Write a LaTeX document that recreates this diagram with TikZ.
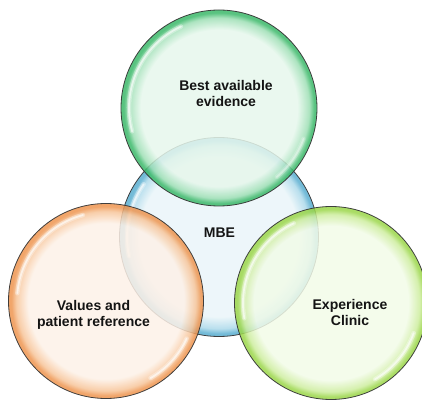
\documentclass[tikz,border=0pt]{standalone}
\usepackage{fontspec}
\setmainfont{Liberation Sans}
\definecolor{gIn}{HTML}{E6F7EC}
\definecolor{gMid}{HTML}{9EDFB5}
\definecolor{gEdge}{HTML}{3CB96A}
\definecolor{bIn}{HTML}{EAF5F9}
\definecolor{bMid}{HTML}{ACD9EA}
\definecolor{bEdge}{HTML}{5AAED0}
\definecolor{oIn}{HTML}{FDF1E7}
\definecolor{oMid}{HTML}{F7C59A}
\definecolor{oEdge}{HTML}{EE9550}
\definecolor{lIn}{HTML}{F2FBE8}
\definecolor{lMid}{HTML}{CDED9E}
\definecolor{lEdge}{HTML}{9BD64A}
\definecolor{rimline}{HTML}{363636}
\definecolor{txt}{HTML}{141414}
\pgfdeclareradialshading{bubG}{\pgfpoint{0bp}{0bp}}{color(0bp)=(gIn); color(20bp)=(gIn); color(23bp)=(gMid); color(24.3bp)=(gEdge); color(50bp)=(gEdge)}
\pgfdeclareradialshading{bubB}{\pgfpoint{0bp}{0bp}}{color(0bp)=(bIn); color(20bp)=(bIn); color(23bp)=(bMid); color(24.3bp)=(bEdge); color(50bp)=(bEdge)}
\pgfdeclareradialshading{bubO}{\pgfpoint{0bp}{0bp}}{color(0bp)=(oIn); color(20bp)=(oIn); color(23bp)=(oMid); color(24.3bp)=(oEdge); color(50bp)=(oEdge)}
\pgfdeclareradialshading{bubL}{\pgfpoint{0bp}{0bp}}{color(0bp)=(lIn); color(20bp)=(lIn); color(23bp)=(lMid); color(24.3bp)=(lEdge); color(50bp)=(lEdge)}
\tikzset{
  bubble/.style={circle, inner sep=0pt, draw=rimline, line width=0.8pt, fill opacity=0.85, draw opacity=0.95},
  hlsoft/.style={white, line width=4.5pt, line cap=round, opacity=0.35},
  hl/.style={white, line width=1.8pt, line cap=round, opacity=0.6},
  lbl/.style={align=center, text=txt, font=\bfseries\fontsize{14}{16}\selectfont}
}
\newcommand{\glint}[5]{% node, start, end, radius, opacity factor
  \draw[hlsoft, opacity=#5*0.35] ([shift={(#2:#4)}]#1.center) arc[start angle=#2, end angle=#3, radius=#4];
  \draw[hl, opacity=#5*0.6] ([shift={(#2:#4)}]#1.center) arc[start angle=#2, end angle=#3, radius=#4];
}
\begin{document}
\begin{tikzpicture}[x=1pt,y=1pt]
\useasboundingbox (0,0) rectangle (422,401);
\clip (0,0) rectangle (422,401);
% MBE
\node[bubble, shading=bubB, minimum size=199pt] (mbe) at (219,164) {};
\glint{mbe}{145}{192}{92}{1}
% top
\node[bubble, shading=bubG, minimum size=196pt] (top) at (219,293) {};
\glint{top}{115}{195}{90}{1}
\glint{top}{-20}{-50}{90}{0.6}
% orange
\node[bubble, shading=bubO, minimum size=195pt] (left) at (106,100) {};
\glint{left}{105}{175}{89}{1}
\glint{left}{-25}{-60}{89}{1}
% right green
\node[bubble, shading=bubL, minimum size=193pt] (right) at (331,98) {};
\glint{right}{115}{190}{88}{1}
\glint{right}{-20}{-60}{88}{1}
% labels
\node[lbl] (tl) at (226,307) {Best available\\evidence};
\node[lbl] (ml) at (219.5,168) {MBE};
\node[lbl] (ll) at (93.5,86) {Values and\\patient reference};
\node[lbl] (rl) at (350,89) {Experience\\Clinic};
\end{tikzpicture}
\end{document}
